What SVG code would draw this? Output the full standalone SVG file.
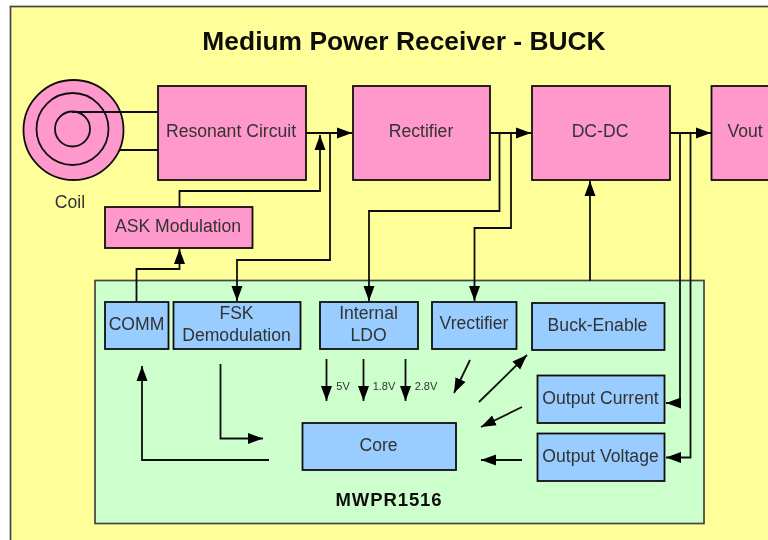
<svg xmlns="http://www.w3.org/2000/svg" width="768" height="540" viewBox="0 0 768 540">
<style>
text{font-family:"Liberation Sans",Arial,sans-serif;font-size:17.6px;fill:#333;text-anchor:middle}
.t{font-size:26.4px;font-weight:bold;fill:#111}
.b{font-weight:bold;font-size:18.5px;letter-spacing:.9px;fill:#111}
.s{font-size:11px}
.p{fill:#ff99cc;stroke:#111;stroke-width:1.800}
.u{fill:#99ccff;stroke:#111;stroke-width:1.800}
.c{fill:none;stroke:#111;stroke-width:1.800}
.a{marker-end:url(#ah)}
</style>
<defs>
<marker id="ah" markerUnits="userSpaceOnUse" markerWidth="16" markerHeight="13" refX="15" refY="6.500" orient="auto"><path d="M0 1L15 6.500L0 12Z" fill="#000"/></marker>
<filter id="soft" x="0" y="0" width="100%" height="100%"><feGaussianBlur stdDeviation="0.5"/></filter>
</defs>
<g filter="url(#soft)">
<rect width="768" height="540" fill="#fff"/>
<rect id="frame" x="10.500" y="6.500" width="770" height="550" fill="#ffff99" stroke="#444" stroke-width="1.700"/>
<rect id="chip" x="95" y="280.500" width="609" height="243" fill="#ccffcc" stroke="#444" stroke-width="1.700"/>
<text class="t" x="404" y="49.500">Medium Power Receiver - BUCK</text>
<g id="connectors">
<path class="c" d="M72 112H158M120 150H158"/>
<path class="c a" d="M306 133H352"/>
<path class="c a" d="M179.500 207V191H320V135"/>
<path class="c a" d="M330 133V260H237V301"/>
<path class="c a" d="M490 133H531"/>
<path class="c a" d="M499.500 133V211H369V301"/>
<path class="c a" d="M511 133V228H474.500V301"/>
<path class="c a" d="M590 281V181"/>
<path class="c a" d="M670 133H711"/>
<path class="c a" d="M680 133V403H666"/>
<path class="c a" d="M690.500 133V457.500H666"/>
<path class="c a" d="M136.500 302V269H179.500V249"/>
<path class="c a" d="M326.500 359V401"/>
<path class="c a" d="M363.500 359V401"/>
<path class="c a" d="M405.500 359V401"/>
<path class="c a" d="M220.500 364V438.500H263"/>
<path class="c a" d="M269 460H142V366"/>
<path class="c a" d="M470 360L454 393"/>
<path class="c a" d="M479 402L527 355"/>
<path class="c a" d="M522 407L481 427"/>
<path class="c a" d="M522 460H481"/>
</g>
<g id="coil"><circle class="p" cx="73.500" cy="130" r="50"/><circle class="c" cx="72.500" cy="129" r="36"/><circle class="c" cx="72.500" cy="129" r="17.500"/><path class="c" d="M72 112H122"/><text x="70" y="208">Coil</text></g>
<g id="resonant"><rect class="p" x="158" y="86" width="148" height="94"/><text x="231" y="137">Resonant Circuit</text></g>
<g id="rectifier"><rect class="p" x="353" y="86" width="137" height="94"/><text x="421" y="137">Rectifier</text></g>
<g id="dcdc"><rect class="p" x="532" y="86" width="138" height="94"/><text x="600" y="137">DC-DC</text></g>
<g id="vout"><rect class="p" x="711.500" y="86" width="70" height="94"/><text x="745" y="137">Vout</text></g>
<g id="ask"><rect class="p" x="105" y="207" width="147.500" height="41"/><text x="178" y="232">ASK Modulation</text></g>
<g id="comm"><rect class="u" x="105" y="302" width="63.500" height="47"/><text x="136.500" y="330">COMM</text></g>
<g id="fsk"><rect class="u" x="173.500" y="302" width="127" height="47"/><text x="236.500" y="319">FSK</text><text x="236.500" y="341">Demodulation</text></g>
<g id="ldo"><rect class="u" x="320" y="302" width="98" height="47"/><text x="368.500" y="319">Internal</text><text x="368.500" y="341">LDO</text></g>
<g id="vrect"><rect class="u" x="432" y="302" width="84.500" height="47"/><text x="474" y="329">Vrectifier</text></g>
<g id="buck"><rect class="u" x="532" y="303" width="132.500" height="47"/><text x="597.500" y="331">Buck-Enable</text></g>
<g id="ocur"><rect class="u" x="537.500" y="375.500" width="127" height="47.500"/><text x="600.500" y="404">Output Current</text></g>
<g id="ovolt"><rect class="u" x="537.500" y="433.500" width="127" height="47.500"/><text x="600.500" y="462">Output Voltage</text></g>
<g id="core"><rect class="u" x="302.500" y="423" width="153.500" height="47"/><text x="378.500" y="451">Core</text></g>
<text class="s" x="343" y="390">5V</text>
<text class="s" x="384" y="390">1.8V</text>
<text class="s" x="426" y="390">2.8V</text>
<text class="b" x="389" y="506">MWPR1516</text>
</g>
</svg>
